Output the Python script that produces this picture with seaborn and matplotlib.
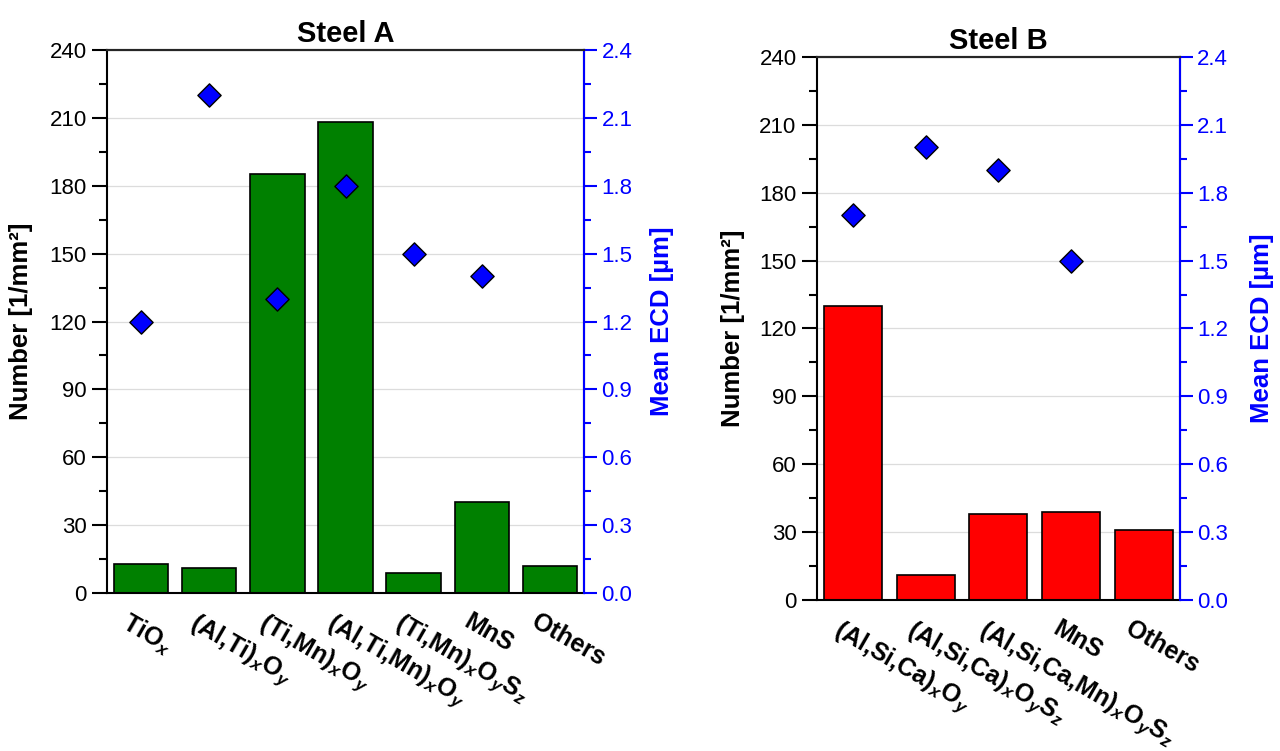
import numpy as np
import pandas as pd
import seaborn as sns
import matplotlib.pyplot as plt
import matplotlib.ticker as mticker
import matplotlib.transforms as mtransforms

# -----------------------------------------------------------------------------
# Data
# -----------------------------------------------------------------------------
steel_a_phases = ["TiO$_x$", "(Al,Ti)$_x$O$_y$", "(Ti,Mn)$_x$O$_y$",
                  "(Al,Ti,Mn)$_x$O$_y$", "(Ti,Mn)$_x$O$_y$S$_z$", "MnS", "Others"]
steel_a_number = [13, 11, 185, 208, 9, 40, 12]
steel_a_ecd = [1.2, 2.2, 1.3, 1.8, 1.5, 1.4, np.nan]

steel_b_phases = ["(Al,Si,Ca)$_x$O$_y$", "(Al,Si,Ca)$_x$O$_y$S$_z$",
                  "(Al,Si,Ca,Mn)$_x$O$_y$S$_z$", "MnS", "Others"]
steel_b_number = [130, 11, 38, 39, 31]
steel_b_ecd = [1.7, 2.0, 1.9, 1.5, np.nan]

# -----------------------------------------------------------------------------
# Style
# -----------------------------------------------------------------------------
sns.set_style("white")
plt.rcParams["font.family"] = ["Liberation Sans", "DejaVu Sans"]
plt.rcParams["mathtext.fontset"] = "custom"
plt.rcParams["mathtext.it"] = "Liberation Sans:italic:bold"
plt.rcParams["mathtext.rm"] = "Liberation Sans:bold"
plt.rcParams["text.color"] = "black"
plt.rcParams["axes.labelcolor"] = "black"
plt.rcParams["xtick.color"] = "black"
plt.rcParams["ytick.color"] = "black"

fig = plt.figure(figsize=(12.8, 7.51), dpi=100)


def panel(rect, title, phases, number, ecd, colour, lab_left, lab_right):
    df = pd.DataFrame({"phase": phases, "number": number, "ecd": ecd,
                       "pos": np.arange(len(phases))})
    ax = fig.add_axes(rect)
    ax.set_axisbelow(True)
    ax.grid(axis="y", color="#dcdcdc", lw=0.9)
    sns.barplot(x="phase", y="number", data=df, ax=ax, color=colour, saturation=1,
                edgecolor="black", linewidth=1.2, width=0.8)
    ax.set_xlim(-0.5, len(phases) - 0.5)
    ax.set_ylim(0, 240)
    ax.yaxis.set_major_locator(mticker.MultipleLocator(30))
    ax.yaxis.set_minor_locator(mticker.MultipleLocator(15))
    ax.tick_params(axis="y", which="major", length=11, width=1.5, labelsize=16,
                   direction="out", colors="black")
    ax.tick_params(axis="y", which="minor", length=6, width=1.5, direction="out")
    ax.tick_params(axis="x", which="major", length=12, width=1.5, direction="out",
                   colors="black")
    ax.set_xticks(df["pos"])
    ax.set_xticklabels(phases, rotation=-30, ha="left", va="top",
                       rotation_mode="anchor", fontweight="bold", fontsize=18)
    offset = mtransforms.ScaledTranslation(-0.10, 0.05, fig.dpi_scale_trans)
    for lab in ax.get_xticklabels():
        lab.set_transform(lab.get_transform() + offset)
    ax.set(xlabel=None)
    ax.set_ylabel("Number [1/mm²]", fontsize=18.5, fontweight="bold")
    ax.yaxis.set_label_coords(lab_left, 0.5)
    ax.set_title(title, fontsize=21, fontweight="bold", pad=6, color="black")
    for s in ax.spines.values():
        s.set_linewidth(1.5)
        s.set_color("black")

    ax2 = ax.twinx()
    sns.scatterplot(x="pos", y="ecd", data=df, ax=ax2, marker="D", s=140,
                    color="#0000ff", edgecolor="black", linewidth=1.0, zorder=5)
    ax2.set_ylim(0, 2.4)
    ax2.yaxis.set_major_locator(mticker.MultipleLocator(0.3))
    ax2.yaxis.set_minor_locator(mticker.MultipleLocator(0.15))
    ax2.yaxis.set_major_formatter(mticker.FormatStrFormatter("%.1f"))
    ax2.tick_params(axis="y", which="major", length=9, width=1.5, labelsize=16,
                    direction="out", colors="#0000ff")
    ax2.tick_params(axis="y", which="minor", length=5, width=1.5, direction="out",
                    colors="#0000ff")
    ax2.set(xlabel=None)
    ax2.set_ylabel("Mean ECD [µm]", fontsize=18.5, fontweight="bold", color="#0000ff")
    ax2.yaxis.set_label_coords(lab_right, 0.5)
    for s in ax2.spines.values():
        s.set_linewidth(1.5)
    ax2.spines["right"].set_color("#0000ff")
    ax2.spines["left"].set_visible(False)
    ax2.spines["bottom"].set_visible(False)
    ax.set_xlim(-0.5, len(phases) - 0.5)
    return ax, ax2


panel([0.0836, 0.2104, 0.3727, 0.7230], "Steel A", steel_a_phases, steel_a_number,
      steel_a_ecd, "#008000", -0.155, 1.138)
panel([0.6380, 0.2011, 0.2838, 0.7230], "Steel B", steel_b_phases, steel_b_number,
      steel_b_ecd, "#ff0000", -0.198, 1.193)

plt.savefig("out.png", dpi=100)
